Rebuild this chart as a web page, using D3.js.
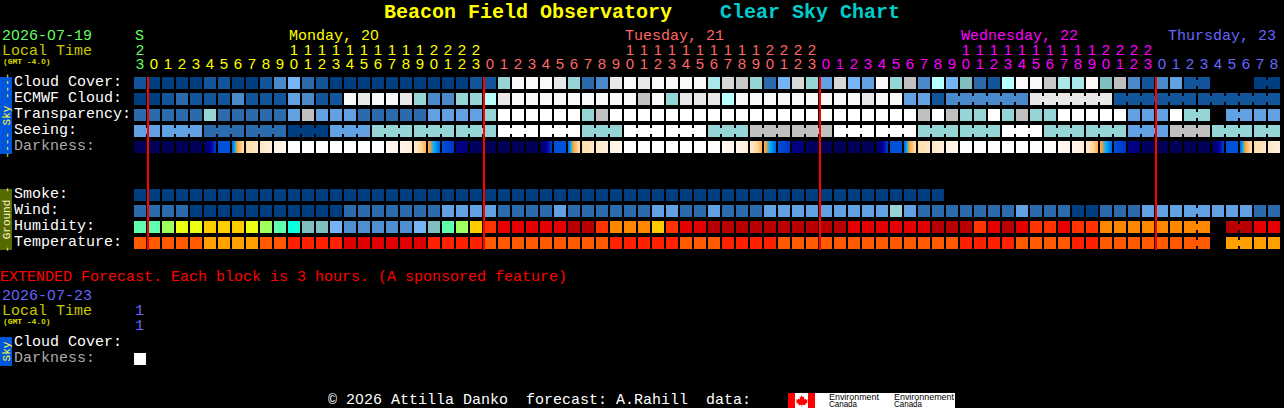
<!DOCTYPE html>
<html><head><meta charset="utf-8">
<script src="https://cdn.jsdelivr.net/npm/d3@7"></script>
<style>
html,body{margin:0;padding:0;background:#000;overflow:hidden}
svg{display:block}
text{white-space:pre}
</style></head><body>
<svg id="c" width="1284" height="408"></svg>
<script>
const _ = null;
const hourLabels = [23,0,1,2,3,4,5,6,7,8,9,10,11,12,13,14,15,16,17,18,19,20,21,22,23,0,1,2,3,4,5,6,7,8,9,10,11,12,13,14,15,16,17,18,19,20,21,22,23,0,1,2,3,4,5,6,7,8,9,10,11,12,13,14,15,16,17,18,19,20,21,22,23,0,1,2,3,4,5,6,7,8];
const rowLabels = ["Cloud Cover:","ECMWF Cloud:","Transparency:","Seeing:","Darkness:"];
const groundLabels = ["Smoke:","Wind:","Humidity:","Temperature:"];
const skyPalette = ["#003f7f","#13559b","#2b6bab","#4a8acb","#62a2e2","#75b5f5","#80bfbf","#95d5d5","#a8e8e8","#b8ffff","#c0c0c0","#c8c8c8","#d8d8d8","#e8e8e8","#f9f9f9","#ffffff"];
const humidityPalette = ["#5fffaf","#9fff5f","#ebff12","#ffcc00","#0dffdf","#80bfbf","#75b5f5","#4f8fcf","#ff3300","#e60000","#b80000","#ff8800"];
const temperaturePalette = ["#ff5a00","#ffa000","#ff2000","#e00000"];
const cloudCover = [1,0,0,0,0,1,1,0,0,1, 3,5,2,1,0,0,0,0,0,0, 0,0,0,0,1,1,7,14,14,14, 13,7,2,3,13,14,13,14,14,14, 14,8,12,11,7,2,5,12,7,4, 12,5,4,14,7,10,3,9,5,6, 2,1,9,14,14,11,8,8,14,6, 10,3,1,3,4,1,1,_,_,_, 0,0];
const ecmwfCloud = [0,0,1,2,1,1,1,3,1,1, 1,4,3,1,1,14,13,14,14,13, 7,3,3,7,7,9,13,14,14,14, 14,14,14,14,14,14,10,14,7,13, 13,13,9,14,14,14,14,14,14,14, 14,14,13,14,14,4,4,1,3,3, 3,3,3,3,13,13,13,13,13,13, 1,1,1,1,1,1,1,1,1,1,1,1];
const transparency = [2,2,2,2,2,7,2,2,2,2, 2,4,10,4,4,4,2,2,2,2, 2,4,4,4,4,7,15,15,15,15, 15,15,7,10,15,15,15,15,15,15, 15,15,15,15,15,15,15,15,15,15, 15,15,15,15,15,15,10,15,10,7, 7,15,7,10,7,7,15,15,15,15, 15,4,4,4,15,7,7,_,4,4,4,4];
const seeing = [4,4,4,4,4,2,2,2,2,2, 2,0,0,0,4,4,4,7,7,7, 7,7,7,7,7,7,15,15,15,15, 15,15,7,7,7,15,15,15,15,15, 15,7,7,7,10,10,10,10,10,10, 15,15,15,15,15,15,7,7,7,7, 7,7,15,15,15,7,7,7,7,7, 7,4,4,4,10,10,10,7,7,7, 7,7];
const darknessLeft  = [2,2,2,2,2,2,20,22,52,62, 72,100,100,100,100,100,100,100,90,80, 65,38,20,10,4,2,2,2,2,2, 20,22,52,62,72,100,100,100,100,100, 100,100,90,80,65,38,20,10,4,2, 2,2,2,2,20,22,52,62,72,100, 100,100,100,100,100,100,90,80,65,38, 20,10,4,2,2,2,2,2,20,22, 52,62];
const darknessRight = [2,2,2,2,2,18,20,55,62,70, 85,100,100,100,100,100,100,95,75,68, 40,22,17,7,3,2,2,2,2,18, 20,55,62,70,85,100,100,100,100,100, 100,95,75,68,40,22,17,7,3,2, 2,2,2,18,20,55,62,70,85,100, 100,100,100,100,100,92,75,68,40,22, 17,7,3,2,2,2,2,18,20,55, 62,70];
const smoke = [0,0,0,0,0,0,0,0,0,0, 0,0,0,0,0,0,0,0,0,0, 0,0,0,0,0,0,0,0,0,0, 0,0,0,0,0,0,0,0,0,0, 0,0,0,0,0,0,0,0,0,0, 0,0,0,0,0,0,0,0];
const wind = [2,2,2,2,0,0,0,0,0,0, 0,0,0,0,0,2,2,2,2,2, 2,2,4,4,4,4,2,2,2,2, 4,2,2,2,2,2,2,4,4,2, 2,4,2,2,2,4,4,4,4,4, 4,4,4,4,7,4,2,2,2,2, 2,2,2,4,2,2,2,0,0,2, 2,2,4,4,4,4,4,4,4,4, 2,2];
const humidity = [0,0,1,2,2,3,3,3,2,1, 0,4,5,5,6,7,7,7,7,7, 6,5,0,1,3,8,9,9,9,9, 9,10,10,8,11,11,11,3,8,9, 9,10,10,10,10,10,10,10,10,10, 10,9,9,9,9,9,9,10,10,10, 8,9,10,9,8,8,9,8,8,11, 11,11,11,11,11,11,11,_,10,10, 9,9];
const temperature = [0,0,0,0,0,1,1,1,1,0, 0,2,2,2,2,3,3,3,3,3, 3,2,2,2,2,0,0,0,0,0, 0,0,0,0,2,2,2,2,2,0, 0,0,2,2,2,2,0,0,0,0, 0,0,0,0,0,0,0,0,0,2, 2,2,2,0,0,0,0,2,2,0, 0,0,0,0,0,0,0,_,1,1, 1,1];
const cloudLinks = [75,80];
const ecmwfLinks = [58,59,60,61,62,64,65,66,67,68,70,71,72,73,74,76,77,78,79,80];
const transparencyLinks = [75,78];
const seeingLinks = [0,2,3,5,6,8,9,11,12,14,15,17,18,20,21,23,24,26,27,29,30,32,33,35,36,38,39,41,42,44,45,47,48,50,51,53,54,56,57,59,60,62,63,65,66,68,69,71,72,74,75,77,78,80];
const groundLinks = [75];
const humidityLinks = [75,78];
const temperatureLinks = [75,78];
const midnightCols = [1,25,49,73];
const dayHeaders = [["Monday, 20",289,"#ffff00"],["Tuesday, 21",625,"#ff6666"],["Wednesday, 22",961,"#ff00ff"],["Thursday, 23",1168,"#6666ff"]];
const tensCols = [0,11,12,13,14,15,16,17,18,19,20,21,22,23,24,35,36,37,38,39,40,41,42,43,44,45,46,47,48,59,60,61,62,63,64,65,66,67,68,69,70,71,72];

const svg = d3.select("#c");
svg.append("rect").attr("width",1284).attr("height",408).attr("fill","#000");
const cols = d3.range(hourLabels.length);
const x = d3.scaleBand().domain(cols).range([134,1280]).paddingInner(2/14).paddingOuter(0);
const ySky = d3.scaleBand().domain(rowLabels).range([77,153]).paddingInner(4/16).paddingOuter(0);
const yGround = d3.scaleBand().domain(groundLabels).range([189,249]).paddingInner(4/16).paddingOuter(0);
const colourSky = d3.scaleOrdinal(d3.range(skyPalette.length),skyPalette);
const colourHum = d3.scaleOrdinal(d3.range(humidityPalette.length),humidityPalette);
const colourTemp = d3.scaleOrdinal(d3.range(temperaturePalette.length),temperaturePalette);
const darkColour = d3.scaleLinear().domain([0,8,11,20,30,36,52,72,100]).range(["#000048","#00007f","#000099","#0050d8","#00b0ff","#ffa030","#ffdca8","#fff2e2","#ffffff"]);
const dayColour = i => i<1?"#66ff66":i<25?"#ffff00":i<49?"#ff6666":i<73?"#ff00ff":"#6666ff";

const MONO='"Liberation Mono",monospace', SANS='"Liberation Sans",sans-serif';
function label(px,py,str,fill,size=15,pitch=9,weight=400){
  const t=svg.append("text").attr("y",py).attr("fill",fill).attr("font-size",size).attr("font-weight",weight).attr("font-family",MONO);
  const runs=str.match(/0+|[^0]+/g); let pos=0;
  runs.forEach(r=>{
    const xs=d3.range(r.length).map(k=>px+(pos+k)*pitch+(r[0]==="0"?(pitch-size*0.556)/2:0));
    t.append("tspan").attr("x",xs.join(" ")).attr("font-family",r[0]==="0"?SANS:MONO).text(r);
    pos+=r.length;
  });
  return t;
}

function row(y,name,values,colour,links){
  const g=svg.append("g").attr("class","row");
  g.selectAll("rect.cell").data(cols.filter(i=>values[i]!=null&&values[i]!==undefined)).join("rect").attr("class","cell")
    .attr("x",i=>x(i)).attr("y",y(name)).attr("width",x.bandwidth()).attr("height",y.bandwidth())
    .attr("fill",i=>colour(values[i]));
  g.selectAll("rect.link").data(links).join("rect").attr("class","link")
    .attr("x",i=>x(i)+x.bandwidth()).attr("y",y(name)+3).attr("width",x.step()-x.bandwidth()).attr("height",y.bandwidth()-6)
    .attr("fill",i=>colour(values[i]));
}
row(ySky,"Cloud Cover:",cloudCover,colourSky,cloudLinks);
row(ySky,"ECMWF Cloud:",ecmwfCloud,colourSky,ecmwfLinks);
row(ySky,"Transparency:",transparency,colourSky,transparencyLinks);
row(ySky,"Seeing:",seeing,colourSky,seeingLinks);
row(yGround,"Smoke:",smoke,colourSky,[]);
row(yGround,"Wind:",wind,colourSky,groundLinks);
row(yGround,"Humidity:",humidity,colourHum,humidityLinks);
row(yGround,"Temperature:",temperature,colourTemp,temperatureLinks);

// Darkness: each block is a left-to-right gradient
const defs=svg.append("defs");
cols.forEach(i=>{
  const gr=defs.append("linearGradient").attr("id","dk"+i);
  const v=d3.scaleLinear().domain([0,1]).range([darknessLeft[i],darknessRight[i]]);
  d3.range(0,1.001,1/12).forEach(o=>gr.append("stop").attr("offset",o).attr("stop-color",darkColour(v(o))));
});
svg.append("g").selectAll("rect").data(cols).join("rect")
  .attr("x",i=>x(i)).attr("y",ySky("Darkness:")).attr("width",x.bandwidth()).attr("height",ySky.bandwidth())
  .attr("fill",i=>`url(#dk${i})`);

// Title
label(384,18,"Beacon Field Observatory","#ffff00",20,12,700);
label(720,18,"Clear Sky Chart","#00cccc",20,12,700);

// Header
label(2,40,"2026-07-19","#66ff66");
label(2,55,"Local Time","#c8c800");
label(3,64,"(GMT -4.0)","#dcdc00",8,4.75,700);
label(135,40,"S","#66ff66");
dayHeaders.forEach(d=>label(d[1],40,d[0],d[2]));

function hourAxis(yPos,values,fmt){
  const g=svg.append("g").attr("transform",`translate(0,${yPos})`)
    .call(d3.axisTop(x).tickValues(values).tickSize(0).tickPadding(0).tickFormat(fmt));
  g.select(".domain").remove();
  g.selectAll(".tick text").attr("fill",i=>dayColour(i)).attr("font-size",15).attr("font-family",SANS).attr("y",0).attr("dy",0);
  g.attr("font-size",15).attr("font-family",SANS);
}
hourAxis(55,tensCols,i=>Math.floor(hourLabels[i]/10));
hourAxis(69,cols,i=>hourLabels[i]%10);

// Row labels
rowLabels.forEach((r,i)=>label(14,ySky(r)+9,r,r==="Darkness:"?"#aaaaaa":"#ffffff"));
groundLabels.forEach(r=>label(14,yGround(r)+9,r,"#ffffff"));

// Side bars
function side(y0,y1,fill,txt,color,size){
  svg.append("rect").attr("x",0).attr("y",y0).attr("width",12).attr("height",y1-y0).attr("fill",fill);
  svg.append("text").attr("transform",`translate(9.5,${(y0+y1)/2}) rotate(-90)`).attr("text-anchor","middle")
    .attr("font-family",MONO).attr("font-size",size).attr("fill",color).text(txt);
}
side(77,154,"#0055dd","---- Sky ----","#ffff33",11);
side(189,250,"#556b00","- Ground -","#f5f5c8",11);
side(337,366,"#0055dd","Sky","#ffff33",11);

// Midnight lines
svg.append("g").selectAll("rect").data(midnightCols).join("rect")
  .attr("x",i=>x(i)-1).attr("y",77).attr("width",2).attr("height",173).attr("fill","#ff0000");

// Extended
label(0,281,"EXTENDED Forecast. Each block is 3 hours. (A sponsored feature)","#ff0000");
label(2,300,"2026-07-23","#6666ff");
label(2,315,"Local Time","#c8c800");
label(3,324,"(GMT -4.0)","#dcdc00",8,4.75,700);
label(135,315,"1","#6666ff");
label(135,330,"1","#6666ff");
label(14,346,"Cloud Cover:","#ffffff");
label(14,362,"Darkness:","#aaaaaa");
const extendedDarkness=[100];
svg.append("g").selectAll("rect").data(extendedDarkness).join("rect")
  .attr("x",x(0)).attr("y",353).attr("width",x.bandwidth()).attr("height",12).attr("fill",d=>darkColour(d));

// Footer
label(328,404,"\u00a9 2026 Attilla Danko  forecast: A.Rahill  data:","#ffffff");
const logo=svg.append("g").attr("transform","translate(788,393)");
logo.append("rect").attr("width",167).attr("height",15).attr("fill","#fff");
logo.append("rect").attr("width",7).attr("height",15).attr("fill","#ff0000");
logo.append("rect").attr("x",20).attr("width",7).attr("height",15).attr("fill","#ff0000");
logo.append("path").attr("fill","#ff0000").attr("d","M13.5 2l1.3 2.2 1.4-.7-.4 3 1.6-1 .5 1.2 1.8-.3-.6 2 .9.6-2.7 2-.1 1.2-3-.4v2h-.6v-2l-3 .4-.1-1.2-2.7-2 .9-.6-.6-2 1.8.3.5-1.2 1.6 1-.4-3 1.4.7z");
[["Environment",41,7,50],["Canada",41,14,28],["Environnement",106,7,60],["Canada",106,14,28]].forEach(d=>{
  logo.append("text").attr("x",d[1]).attr("y",d[2]).attr("font-family",SANS).attr("font-size",8.5).attr("fill","#000")
    .attr("textLength",d[3]).attr("lengthAdjust","spacingAndGlyphs").text(d[0]);
});
</script>
</body></html>
